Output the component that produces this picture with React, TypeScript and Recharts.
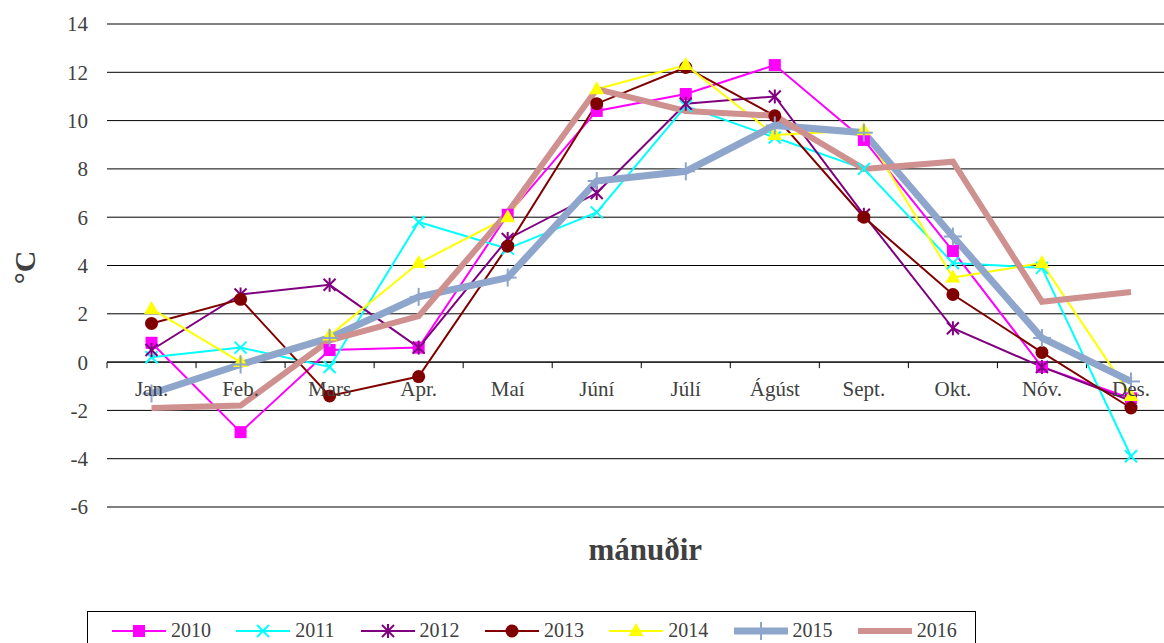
import React from 'react';
import {
  LineChart,
  Line,
  XAxis,
  YAxis,
  CartesianGrid,
  ReferenceLine,
  ReferenceDot,
  Legend,
} from 'recharts';

// ---------- data ----------
const months = ['Jan.', 'Feb.', 'Mars', 'Apr.', 'Maí', 'Júní', 'Júlí', 'Ágúst', 'Sept.', 'Okt.', 'Nóv.', 'Des.'];
const y2010 = [0.8, -2.9, 0.5, 0.6, 6.1, 10.4, 11.1, 12.3, 9.2, 4.6, -0.2, -1.5];
const y2011 = [0.2, 0.6, -0.2, 5.8, 4.7, 6.2, 10.6, 9.3, 8.0, 4.1, 3.9, -3.9];
const y2012 = [0.5, 2.8, 3.2, 0.6, 5.1, 7.0, 10.7, 11.0, 6.1, 1.4, -0.2, -1.6];
const y2013 = [1.6, 2.6, -1.4, -0.6, 4.8, 10.7, 12.2, 10.2, 6.0, 2.8, 0.4, -1.9];
const y2014 = [2.2, 0.0, 1.1, 4.1, 6.0, 11.3, 12.3, 9.4, 9.6, 3.5, 4.1, -1.4];
const y2015 = [-1.3, -0.1, 1.0, 2.7, 3.5, 7.5, 7.9, 9.8, 9.5, 5.2, 1.0, -0.8];
const y2016 = [-1.9, -1.8, 0.9, 1.9, 6.2, 11.3, 10.4, 10.2, 8.0, 8.3, 2.5, 2.9];
const yTicks = [-6, -4, -2, 0, 2, 4, 6, 8, 10, 12, 14];
const seriesNames = ['2010', '2011', '2012', '2013', '2014', '2015', '2016'];
const xAxisTitle = 'mánuðir';
const yAxisTitle = '°C';

const data = months.map((m, i) => ({
  idx: i + 1,
  month: m,
  y2010: y2010[i],
  y2011: y2011[i],
  y2012: y2012[i],
  y2013: y2013[i],
  y2014: y2014[i],
  y2015: y2015[i],
  y2016: y2016[i],
}));

const boundaries = [...months.map((_, i) => i + 0.5), months.length + 0.5];

// ---------- styles ----------
const FONT = 'Liberation Serif, Times New Roman, serif';
const TEXT = '#404040';

type MarkerType = 'square' | 'x' | 'star' | 'circle' | 'triangle' | 'plus' | 'none';

const series: { key: string; name: string; color: string; width: number; marker: MarkerType }[] = [
  { key: 'y2010', name: seriesNames[0], color: '#FF00FF', width: 2, marker: 'square' },
  { key: 'y2011', name: seriesNames[1], color: '#00FFFF', width: 2, marker: 'x' },
  { key: 'y2012', name: seriesNames[2], color: '#800080', width: 2, marker: 'star' },
  { key: 'y2013', name: seriesNames[3], color: '#800000', width: 2, marker: 'circle' },
  { key: 'y2014', name: seriesNames[4], color: '#FFFF00', width: 2, marker: 'triangle' },
  { key: 'y2015', name: seriesNames[5], color: '#8EA5CC', width: 7, marker: 'plus' },
  { key: 'y2016', name: seriesNames[6], color: '#CF9090', width: 6, marker: 'none' },
];

function Marker({ type, cx, cy, color }: { type: MarkerType; cx: number; cy: number; color: string }) {
  if (cx == null || cy == null || isNaN(cx) || isNaN(cy)) return null;
  switch (type) {
    case 'square':
      return <rect x={cx - 6} y={cy - 6} width={12} height={12} fill={color} />;
    case 'x':
      return (
        <g stroke={color} strokeWidth={2}>
          <line x1={cx - 6} y1={cy - 6} x2={cx + 6} y2={cy + 6} />
          <line x1={cx - 6} y1={cy + 6} x2={cx + 6} y2={cy - 6} />
        </g>
      );
    case 'star':
      return (
        <g stroke={color} strokeWidth={2}>
          <line x1={cx - 6} y1={cy - 6} x2={cx + 6} y2={cy + 6} />
          <line x1={cx - 6} y1={cy + 6} x2={cx + 6} y2={cy - 6} />
          <line x1={cx} y1={cy - 7} x2={cx} y2={cy + 7} />
        </g>
      );
    case 'circle':
      return <circle cx={cx} cy={cy} r={6.5} fill={color} />;
    case 'triangle':
      return <path d={`M${cx},${cy - 8} L${cx + 7.5},${cy + 5} L${cx - 7.5},${cy + 5} Z`} fill={color} />;
    case 'plus':
      return (
        <g stroke={color} strokeWidth={2}>
          <line x1={cx} y1={cy - 9} x2={cx} y2={cy + 9} />
          <line x1={cx - 9} y1={cy} x2={cx + 9} y2={cy} />
        </g>
      );
    default:
      return null;
  }
}

function LegendContent() {
  return (
    <div
      style={{
        boxSizing: 'border-box',
        width: 889,
        height: 40,
        border: '1px solid #000',
        position: 'relative',
        fontFamily: FONT,
        fontSize: 20,
        color: TEXT,
        background: '#fff',
      }}
    >
      {series.map((s, i) => (
        <div
          key={s.key}
          style={{
            position: 'absolute',
            left: 24 + i * 124.3,
            top: 0,
            height: 37,
            display: 'flex',
            alignItems: 'center',
            whiteSpace: 'nowrap',
          }}
        >
          <svg width={54} height={20} style={{ display: 'block' }}>
            <line x1={0} y1={10} x2={54} y2={10} stroke={s.color} strokeWidth={s.width} strokeLinecap="round" />
            <Marker type={s.marker} cx={27} cy={10} color={s.color} />
          </svg>
          <span style={{ marginLeft: 5 }}>{s.name}</span>
        </div>
      ))}
    </div>
  );
}

export default function App() {
  return (
    <div
      style={{
        position: 'absolute',
        left: 0,
        top: 0,
        width: 1164,
        height: 643,
        overflow: 'hidden',
        background: '#fff',
        fontFamily: FONT,
      }}
    >
      <LineChart
        width={1190}
        height={660}
        data={data}
        margin={{ top: 24, right: 14.5, left: 0, bottom: 93 }}
        style={{ fontFamily: FONT }}
      >
        <CartesianGrid vertical={false} stroke="#000" strokeWidth={1} />
        <XAxis
          type="number"
          dataKey="idx"
          domain={[0.5, 12.5]}
          ticks={boundaries}
          tick={false}
          axisLine={false}
          tickLine={false}
          height={60}
          label={{
            content: (props: any) => {
              const vb = props.viewBox || {};
              return (
                <text
                  x={vb.x + vb.width / 2 + 4}
                  y={vb.y + 42}
                  textAnchor="middle"
                  dominantBaseline="central"
                  style={{ fontFamily: FONT, fontSize: 31, fontWeight: 'bold' }}
                  fill={TEXT}
                >
                  {xAxisTitle}
                </text>
              );
            },
          }}
        />
        <YAxis
          type="number"
          domain={[-6, 14]}
          ticks={yTicks}
          interval={0}
          width={107}
          axisLine={false}
          tickLine={false}
          tickSize={6}
          tickMargin={13}
          tick={{ fontSize: 21, fill: TEXT, style: { fontFamily: FONT } }}
          label={{
            content: (props: any) => {
              const vb = props.viewBox || {};
              const cx = 24;
              const cy = vb.y + vb.height / 2 + 2;
              return (
                <text
                  x={cx}
                  y={cy}
                  transform={`rotate(-90, ${cx}, ${cy})`}
                  textAnchor="middle"
                  dominantBaseline="central"
                  style={{ fontFamily: FONT, fontSize: 30, fontWeight: 'bold' }}
                  fill={TEXT}
                >
                  {yAxisTitle}
                </text>
              );
            },
          }}
        />
        <ReferenceLine y={0} stroke="#000" strokeWidth={1} />
        {boundaries.map((b) => (
          <ReferenceLine
            key={`tick-${b}`}
            segment={[
              { x: b, y: 0 },
              { x: b, y: -0.25 },
            ]}
            stroke="#000"
            strokeWidth={1}
          />
        ))}
        {months.map((m, i) => (
          <ReferenceDot
            key={`lbl-${m}`}
            x={i + 1}
            y={0}
            r={0}
            fill="none"
            stroke="none"
            label={{ value: m, position: 'bottom', offset: 19, fontSize: 21, fill: TEXT, style: { fontFamily: FONT } }}
          />
        ))}
        {series.map((s) => (
          <Line
            key={s.key}
            type="linear"
            dataKey={s.key}
            name={s.name}
            stroke={s.color}
            strokeWidth={s.width}
            isAnimationActive={false}
            activeDot={false}
            dot={
              s.marker === 'none'
                ? false
                : (p: any) => (
                    <Marker key={`${s.key}-${p.index}`} type={s.marker} cx={p.cx} cy={p.cy} color={s.color} />
                  )
            }
          />
        ))}
        <Legend
          layout="horizontal"
          verticalAlign="middle"
          align="center"
          wrapperStyle={{ left: 87, top: 611, width: 889, height: 40 }}
          content={() => <LegendContent />}
        />
      </LineChart>
    </div>
  );
}
